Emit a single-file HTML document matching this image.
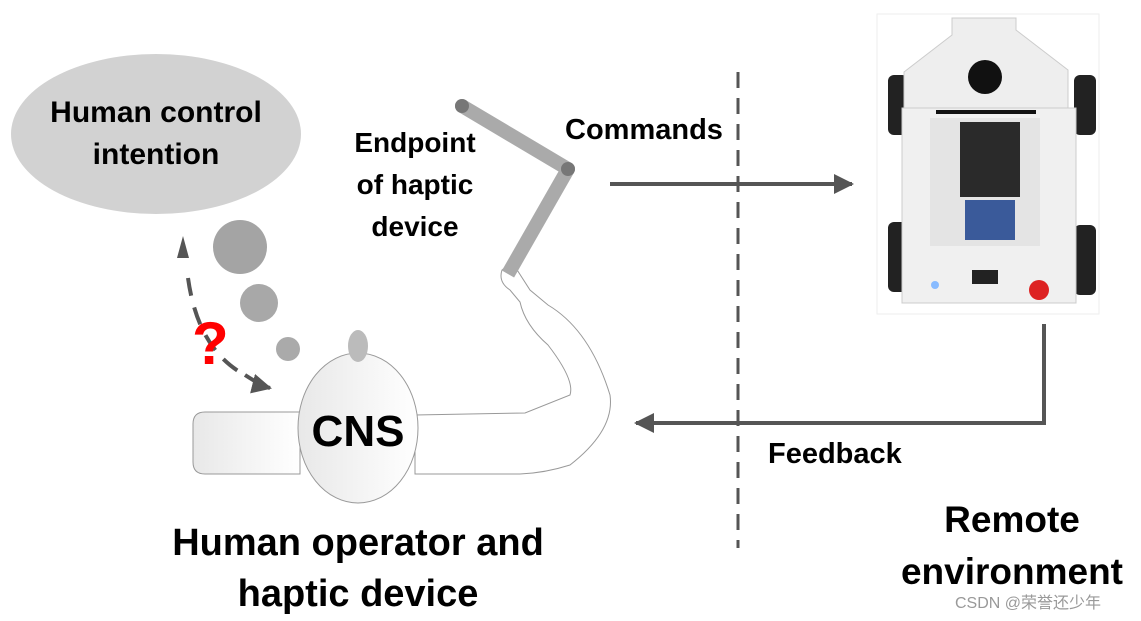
<!DOCTYPE html>
<html><head><meta charset="utf-8"><style>
html,body{margin:0;padding:0;background:#fff;}
svg{display:block;}
text{font-family:"Liberation Sans",sans-serif;font-weight:bold;fill:#000;}
</style></head><body>
<svg width="1141" height="621" viewBox="0 0 1141 621" xmlns="http://www.w3.org/2000/svg">
<defs>
<linearGradient id="g1" x1="0" x2="1"><stop offset="0" stop-color="#e8e8e8"/><stop offset="1" stop-color="#fff"/></linearGradient>
<marker id="ah" viewBox="0 0 10 10" refX="9" refY="5" markerWidth="5" markerHeight="5" orient="auto"><path d="M0,0L10,5L0,10z" fill="#555"/></marker>
</defs>
<ellipse cx="156" cy="134" rx="145" ry="80" fill="#d2d2d2"/>
<text x="156" y="122" font-size="30" text-anchor="middle">Human control</text>
<text x="156" y="164" font-size="30" text-anchor="middle">intention</text>
<circle cx="240" cy="247" r="27" fill="#a4a4a4"/>
<circle cx="259" cy="303" r="19" fill="#a8a8a8"/>
<circle cx="288" cy="349" r="12" fill="#aaa"/>
<path d="M188,278 Q198,350 245,375" fill="none" stroke="#555" stroke-width="4" stroke-dasharray="18,12"/>
<path d="M245,375 Q262,386 270,388" fill="none" stroke="#555" stroke-width="4" marker-end="url(#ah)"/>
<path d="M183,236 L177,258 L189,258z" fill="#555"/>
<text x="192" y="364" font-size="60" style="fill:#f00">?</text>
<path d="M205,412 L300,412 L300,474 L205,474 Q193,474 193,462 L193,424 Q193,412 205,412z" fill="url(#g1)" stroke="#999" stroke-width="1"/>
<path d="M415,415 L525,413 L570,395 Q575,380 548,345 Q525,325 520,302 L510,290 Q498,282 502,270 L512,262 L530,290 L548,305 Q590,330 610,395 Q615,430 570,465 Q545,473 520,474 L415,474z" fill="#fff" stroke="#999" stroke-width="1"/>
<ellipse cx="358" cy="428" rx="60" ry="75" fill="url(#g1)" stroke="#999" stroke-width="1"/>
<ellipse cx="358" cy="346" rx="10" ry="16" fill="#bbb"/>
<text x="358" y="446" font-size="44" text-anchor="middle">CNS</text>
<line x1="462" y1="106" x2="568" y2="169" stroke="#aaa" stroke-width="14" stroke-linecap="round"/>
<line x1="568" y1="169" x2="508" y2="274" stroke="#aaa" stroke-width="14"/>
<circle cx="462" cy="106" r="7" fill="#777"/>
<circle cx="568" cy="169" r="7" fill="#777"/>
<text x="415" y="152" font-size="28" text-anchor="middle">Endpoint</text>
<text x="415" y="194" font-size="28" text-anchor="middle">of haptic</text>
<text x="415" y="236" font-size="28" text-anchor="middle">device</text>
<text x="565" y="139" font-size="29">Commands</text>
<line x1="738" y1="72" x2="738" y2="548" stroke="#555" stroke-width="3" stroke-dasharray="16,10"/>
<line x1="610" y1="184" x2="852" y2="184" stroke="#555" stroke-width="4" marker-end="url(#ah)"/>
<polyline points="1044,324 1044,423 636,423" fill="none" stroke="#555" stroke-width="4" marker-end="url(#ah)"/>
<text x="768" y="463" font-size="29">Feedback</text>
<rect x="877" y="14" width="222" height="300" fill="#fff" stroke="#eee"/>
<rect x="888" y="75" width="20" height="60" rx="6" fill="#222"/>
<rect x="1074" y="75" width="22" height="60" rx="6" fill="#222"/>
<rect x="888" y="222" width="20" height="70" rx="6" fill="#222"/>
<rect x="1074" y="225" width="22" height="70" rx="6" fill="#222"/>
<path d="M952,18 L1016,18 L1016,30 L1068,70 L1068,110 L904,110 L904,72 L952,35z" fill="#eee" stroke="#ccc"/>
<rect x="902" y="108" width="174" height="195" fill="#f0f0f0" stroke="#ccc"/>
<rect x="930" y="118" width="110" height="128" fill="#e4e4e4"/>
<rect x="960" y="122" width="60" height="75" fill="#2a2a2a"/>
<rect x="965" y="200" width="50" height="40" fill="#3a5a9a"/>
<rect x="936" y="110" width="100" height="4" fill="#111"/>
<circle cx="985" cy="77" r="17" fill="#111"/>
<rect x="972" y="270" width="26" height="14" fill="#222"/>
<circle cx="1039" cy="290" r="10" fill="#d22"/>
<circle cx="935" cy="285" r="4" fill="#8bf"/>
<text x="1012" y="532" font-size="37" text-anchor="middle">Remote</text>
<text x="1012" y="584" font-size="37" text-anchor="middle">environment</text>
<text x="358" y="555" font-size="38" text-anchor="middle">Human operator and</text>
<text x="358" y="606" font-size="38" text-anchor="middle">haptic device</text>
<text x="955" y="608" font-size="16" style="font-weight:normal;fill:#999;font-family:'Liberation Sans','Noto Sans CJK SC',sans-serif">CSDN @荣誉还少年</text>
</svg>
</body></html>
